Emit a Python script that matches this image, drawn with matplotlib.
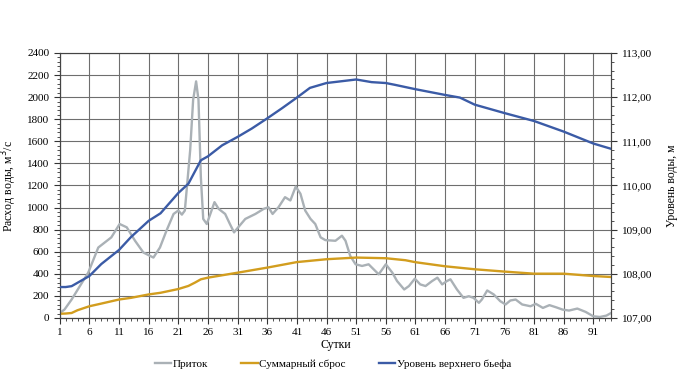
import numpy as np
import matplotlib.pyplot as plt
from matplotlib.ticker import MultipleLocator, FuncFormatter

# Приток (inflow), m3/s
inflow_days = [1, 1.8, 3, 4.4, 5.8, 7.5, 8.6, 9.7, 11.1, 12.3, 13.7, 15.1, 16.8, 17.9,
               19, 20.2, 21, 21.6, 22.1, 23, 23.5, 24, 24.4, 24.8, 25.2, 25.8, 26.4,
               27.1, 27.8, 28.9, 29.7, 30.4, 31.1, 32.3, 34, 35.4, 36.2, 36.9, 37.9,
               39, 39.9, 40.8, 41.6, 42.4, 43.3, 44.1, 45, 45.8, 47.5, 48.6, 49.2, 50,
               50.9, 52, 53.1, 54.8, 56, 57.1, 57.9, 59.1, 59.9, 60.9, 61.8, 62.7, 63.8,
               64.7, 65.5, 66.3, 66.9, 68, 69.1, 70, 70.8, 71.7, 72.2, 73.1, 74.2, 75.3,
               76.2, 77, 77.9, 79, 80.4, 81.3, 82.5, 83.6, 84.7, 85.8, 86.9, 88.3, 89.7,
               91, 92.1, 93.2, 94]
inflow = [45, 76, 167, 289, 410, 638, 684, 730, 851, 821, 699, 593, 547, 638,
          790, 942, 973, 936, 973, 1520, 1976, 2143, 1976, 1277, 897, 851, 942,
          1049, 988, 942, 851, 775, 821, 897, 942, 988, 1003, 942, 1003,
          1094, 1064, 1190, 1125, 973, 897, 851, 730, 705, 699, 745, 699, 562,
          486, 471, 486, 395, 486, 410, 334, 258, 289, 356, 304, 289, 334,
          365, 304, 334, 350, 258, 182, 197, 182, 137, 167, 249, 213, 152,
          122, 158, 167, 122, 106, 128, 91, 116, 97, 76, 67, 85, 55,
          15, 9, 21, 45]

# Суммарный сброс (total discharge), m3/s
outflow_days = [1, 2, 3, 4, 6, 8, 11, 13, 16, 18, 21, 22.7, 23.8, 24.8, 26, 31, 36,
                41, 46, 51, 56, 59.3, 61, 66, 71, 76, 81, 86, 91, 94]
outflow = [38, 40, 45, 70, 106, 130, 167, 182, 213, 228, 262, 290, 320, 350, 365,
           410, 456, 506, 532, 547, 541, 523, 505, 468, 441, 420, 401, 401, 380, 371]

# Уровень верхнего бьефа (headwater level), m
level_days = [1, 2, 3, 6, 8, 11, 13, 16, 18, 21, 22.7, 24.8, 26, 28.4, 31, 33.4, 36,
              38.5, 41, 43.2, 46, 48.5, 51, 53.6, 56, 57.5, 61, 66, 68.5, 71, 76,
              81, 86, 91, 94]
level = [107.70, 107.70, 107.72, 107.95, 108.22, 108.54, 108.83, 109.20, 109.37,
         109.83, 110.04, 110.57, 110.66, 110.91, 111.10, 111.29, 111.52, 111.75,
         111.99, 112.21, 112.32, 112.36, 112.40, 112.34, 112.32, 112.28, 112.18,
         112.05, 111.99, 111.83, 111.64, 111.46, 111.22, 110.95, 110.83]

plt.rcParams['font.family'] = 'Liberation Serif'
plt.rcParams['font.size'] = 8

fig = plt.figure(figsize=(6.79, 3.84), dpi=100)
ax = fig.add_axes([0.088, 0.172, 0.812, 0.69])
ax2 = ax.twinx()

grid_col = '#6e6e6e'
l1, = ax.plot(inflow_days, inflow, color='#aab1b6', lw=1.7, zorder=3)
l2, = ax.plot(outflow_days, outflow, color='#d29d1e', lw=1.7, zorder=3)
l3, = ax2.plot(level_days, level, color='#3b5ba6', lw=1.7, zorder=3)

ax.set_xlim(1, 94)
ax.set_ylim(0, 2400)
ax2.set_ylim(107, 113)

ax.xaxis.set_major_locator(MultipleLocator(5, offset=1))
ax.xaxis.set_minor_locator(MultipleLocator(1))
ax.yaxis.set_major_locator(MultipleLocator(200))
ax.yaxis.set_minor_locator(MultipleLocator(40))
ax2.yaxis.set_major_locator(MultipleLocator(1))
ax2.yaxis.set_minor_locator(MultipleLocator(0.2))
ax2.yaxis.set_major_formatter(FuncFormatter(lambda v, p: f'{v:.2f}'.replace('.', ',')))

ax.grid(True, which='major', color=grid_col, lw=0.8)
for a in (ax, ax2):
    a.tick_params(which='major', length=4, width=0.8, color='#333333', labelsize=8)
    a.tick_params(which='minor', length=2, width=0.6, color='#333333')
    for s in a.spines.values():
        s.set_color('#444444')
        s.set_linewidth(0.8)
ax.spines['top'].set_color(grid_col)

ax.set_xlabel('Сутки', fontsize=8.5, loc='center', labelpad=1)
ax.set_ylabel('Расход воды, м$^3$/с', fontsize=8.5, labelpad=6)
ax2.set_ylabel('Уровень воды, м', fontsize=8.5, labelpad=10)

fig.legend([l1, l2, l3], ['Приток', 'Суммарный сброс', 'Уровень верхнего бьефа'],
           loc='center', bbox_to_anchor=(0.49, 0.052), ncol=3, frameon=False,
           handlelength=1.5, handletextpad=0.1, columnspacing=3, fontsize=8)

fig.savefig('out.png', dpi=100, facecolor='white')
